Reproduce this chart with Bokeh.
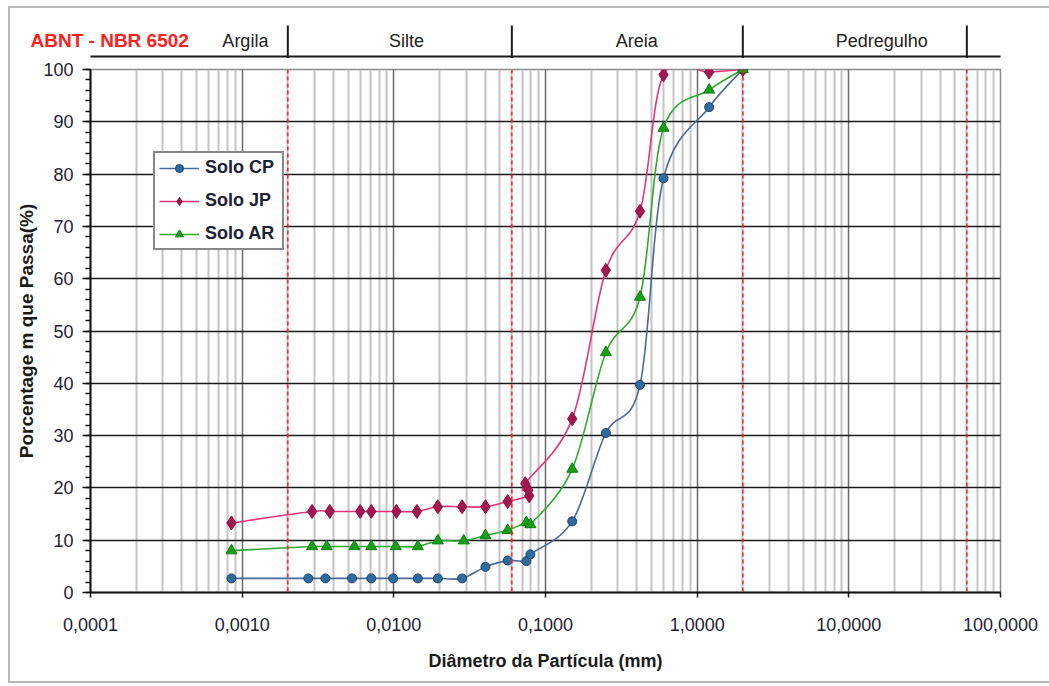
import numpy as np
from bokeh.plotting import figure
from bokeh.layouts import column, row
from bokeh.models import Range1d, FixedTicker, Span, Legend, LegendItem
from bokeh.core.properties import value
from bokeh.embed import file_html
from bokeh.resources import INLINE

FONT = "Liberation Sans"

# Grain-size distribution: particle diameter (mm) and percent passing
cp_d = [0.00085, 0.00273, 0.00354, 0.0053, 0.0071, 0.0099, 0.0144, 0.0195, 0.0282,
        0.0402, 0.0563, 0.0748, 0.0795, 0.15, 0.25, 0.42, 0.60, 1.20, 2.00]
cp_p = [2.7, 2.7, 2.7, 2.7, 2.7, 2.7, 2.7, 2.7, 2.7,
        4.9, 6.1, 6.0, 7.3, 13.6, 30.5, 39.7, 79.2, 92.8, 100.0]

jp_d = [0.00085, 0.00289, 0.00378, 0.0060, 0.0071, 0.0104, 0.0142, 0.0195, 0.0282,
        0.0402, 0.0563, 0.0780, 0.0770, 0.0735, 0.15, 0.25, 0.42, 0.60, 1.20, 2.00]
jp_p = [13.3, 15.5, 15.5, 15.5, 15.5, 15.5, 15.5, 16.4, 16.4,
        16.4, 17.4, 18.5, 19.6, 20.8, 33.2, 61.6, 72.9, 99.0, 99.5, 100.0]

ar_d = [0.00085, 0.00289, 0.00361, 0.0055, 0.0071, 0.0103, 0.0144, 0.0195, 0.0289,
        0.0402, 0.0563, 0.0748, 0.0795, 0.15, 0.25, 0.42, 0.60, 1.20, 2.00]
ar_p = [8.0, 8.8, 8.8, 8.8, 8.8, 8.8, 8.8, 9.9, 9.9,
        10.9, 11.9, 13.4, 13.0, 23.6, 45.9, 56.5, 88.8, 96.1, 100.0]

# ABNT NBR 6502 class limits (mm) and class names
class_bounds = [0.002, 0.06, 2.0, 60.0]
class_names = ["Argila", "Silte", "Areia", "Pedregulho"]
class_label_x = [0.00105, 0.0121, 0.40, 16.5]

x_ticks = [1e-4, 1e-3, 1e-2, 1e-1, 1.0, 10.0, 100.0]
x_tick_labels = ["0,0001", "0,0010", "0,0100", "0,1000", "1,0000", "10,0000", "100,0000"]
y_ticks = list(range(0, 101, 10))

X_MIN, X_MAX = 1e-4, 100.0
FRAME_L, FRAME_R = 80, 49          # side borders of the plotting frame (px)
W = 1039
HEAD_H = 50
decades = np.log10(X_MAX) - np.log10(X_MIN)
px_per_dec = (W - FRAME_L - FRAME_R) / decades


def bezier_segments(xs, ys):
    """Catmull-Rom style smoothing (as in spreadsheet 'smoothed lines'),
    built in log10(x) space so that it is smooth on the log axis."""
    lx = np.log10(np.asarray(xs, float))
    y = np.asarray(ys, float)
    n = len(lx)
    out = {k: [] for k in ("x0", "y0", "x1", "y1", "cx0", "cy0", "cx1", "cy1")}
    for i in range(n - 1):
        a = max(i - 1, 0)
        b = min(i + 2, n - 1)
        c0x = lx[i] + (lx[i + 1] - lx[a]) / 6.0
        c0y = y[i] + (y[i + 1] - y[a]) / 6.0
        c1x = lx[i + 1] - (lx[b] - lx[i]) / 6.0
        c1y = y[i + 1] - (y[b] - y[i]) / 6.0
        out["x0"].append(10 ** lx[i]); out["y0"].append(y[i])
        out["x1"].append(10 ** lx[i + 1]); out["y1"].append(y[i + 1])
        out["cx0"].append(10 ** c0x); out["cy0"].append(c0y)
        out["cx1"].append(10 ** c1x); out["cy1"].append(c1y)
    return out


# ---------- header strip with the soil classes (frame spans the full width) ----------
head = figure(width=W, height=HEAD_H, output_backend="svg", toolbar_location=None,
              x_axis_type="log",
              x_range=Range1d(10 ** (np.log10(X_MIN) - FRAME_L / px_per_dec),
                              10 ** (np.log10(X_MAX) + FRAME_R / px_per_dec)),
              y_range=Range1d(0, HEAD_H),
              min_border_left=0, min_border_right=0, min_border_top=0, min_border_bottom=0)
head.axis.visible = False
head.grid.visible = False
head.outline_line_color = None
head.segment(x0=[X_MIN], y0=[2], x1=[X_MAX], y1=[2], line_color="#1a1a1a", line_width=2)
head.segment(x0=class_bounds, y0=[0] * 4, x1=class_bounds, y1=[33] * 4,
             line_color="#1a1a1a", line_width=2)
head.text(x=class_label_x, y=[18] * 4, text=class_names, text_align="center",
          text_baseline="middle", text_font=value(FONT), text_font_size="18px",
          text_color="#222222")
head.text(x=[10 ** (np.log10(X_MIN) - 60 / px_per_dec)], y=[18], text=["ABNT - NBR 6502"],
          text_align="left", text_baseline="middle", text_font=value(FONT),
          text_font_size="19px", text_font_style="bold", text_color="#ff2020")

# ---------- main grain-size chart ----------
p = figure(width=W, height=673 - HEAD_H, output_backend="svg", toolbar_location=None,
           x_axis_type="log", x_range=Range1d(X_MIN, X_MAX), y_range=Range1d(0, 100),
           min_border_left=FRAME_L, min_border_right=FRAME_R,
           min_border_top=11, min_border_bottom=89)
p.outline_line_color = "#8a8a8a"
p.outline_line_width = 1.5

minor_x = [m * 10.0 ** e for e in range(-4, 2) for m in range(2, 10)]
p.xaxis.ticker = FixedTicker(ticks=x_ticks, minor_ticks=minor_x)
p.xaxis.major_label_overrides = {t: l for t, l in zip(x_ticks, x_tick_labels)}
p.yaxis.ticker = FixedTicker(ticks=y_ticks, minor_ticks=list(range(0, 101, 2)))

p.xgrid.ticker = FixedTicker(ticks=x_ticks[1:-1], minor_ticks=minor_x)
p.xgrid.grid_line_color = "#6a6a6a"
p.xgrid.grid_line_width = 1.5
p.xgrid.minor_grid_line_color = "#c4c4c4"
p.xgrid.minor_grid_line_width = 2
p.ygrid.ticker = FixedTicker(ticks=y_ticks[1:-1])
p.ygrid.grid_line_color = "#1a1a1a"
p.ygrid.grid_line_width = 1.6

for ax in (p.xaxis, p.yaxis):
    ax.axis_line_color = "#111111"
    ax.axis_line_width = 2
    ax.major_tick_line_color = "#111111"
    ax.minor_tick_line_color = "#111111"
    ax.major_tick_line_width = 1.5
    ax.minor_tick_line_width = 1.5
    ax.major_tick_in = 0
    ax.minor_tick_in = 0
    ax.major_label_text_font = FONT
    ax.major_label_text_font_size = "18px"
    ax.major_label_text_color = "#1c2233"
    ax.axis_label_text_font = FONT
    ax.axis_label_text_font_size = "18px"
    ax.axis_label_text_font_style = "bold"
    ax.axis_label_text_color = "#1a1a1a"

p.xaxis.major_tick_out = 5
p.xaxis.minor_tick_out = 0
p.xaxis.major_label_standoff = 20
p.xaxis.axis_label = "Diâmetro da Partícula (mm)"
p.xaxis.axis_label_standoff = 17

p.yaxis.major_tick_out = 8
p.yaxis.minor_tick_out = 5
p.yaxis.major_label_standoff = 9
p.yaxis.axis_label = "Porcentage m que Passa(%)"
p.yaxis.axis_label_text_font_size = "19px"
p.yaxis.axis_label_standoff = 3

for b in class_bounds:
    p.add_layout(Span(location=b, dimension="height", line_color="#ff2020",
                      line_width=1.5, line_dash="4 3"))

series = [
    ("Solo CP", cp_d, cp_p, "#4a6a96", "circle", 9, "#2f6c9e", "#1d3f6e"),
    ("Solo JP", jp_d, jp_p, "#e0357a", "diamond", 14, "#a3174f", "#8a1040"),
    ("Solo AR", ar_d, ar_p, "#2faa2f", "triangle", 11, "#16a016", "#0e7a0e"),
]
items = []
for name, d, pct, lc, mk, ms, fc, ec in series:
    p.bezier(source=bezier_segments(d, pct), x0="x0", y0="y0", x1="x1", y1="y1",
             cx0="cx0", cy0="cy0", cx1="cx1", cy1="cy1", line_color=lc, line_width=1.6)
    key = p.line(x=[np.nan, np.nan], y=[np.nan, np.nan], line_color=lc, line_width=1.6)
    pts = p.scatter(x=d, y=pct, marker=mk, size=ms, fill_color=fc, line_color=ec,
                    line_width=1)
    items.append(LegendItem(label=name, renderers=[key, pts]))

legend = Legend(items=items, location=(63, 342), orientation="vertical",
                border_line_color="#111111", border_line_width=2,
                background_fill_color="white", background_fill_alpha=1,
                label_text_font=FONT, label_text_font_size="18px",
                label_text_font_style="bold", label_text_color="#1c2233",
                glyph_width=40, glyph_height=20, label_height=20, label_width=73,
                label_standoff=6, padding=4, spacing=12, margin=0)
p.add_layout(legend, "center")

layout = column(row(head), p, spacing=0,
                styles={"border-left": "2px solid #b8b8b8",
                        "border-top": "2px solid #b8b8b8",
                        "border-bottom": "2px solid #b8b8b8",
                        "margin-left": "8px", "margin-top": "6px"})

open("out.html", "w").write(file_html(layout, INLINE))
